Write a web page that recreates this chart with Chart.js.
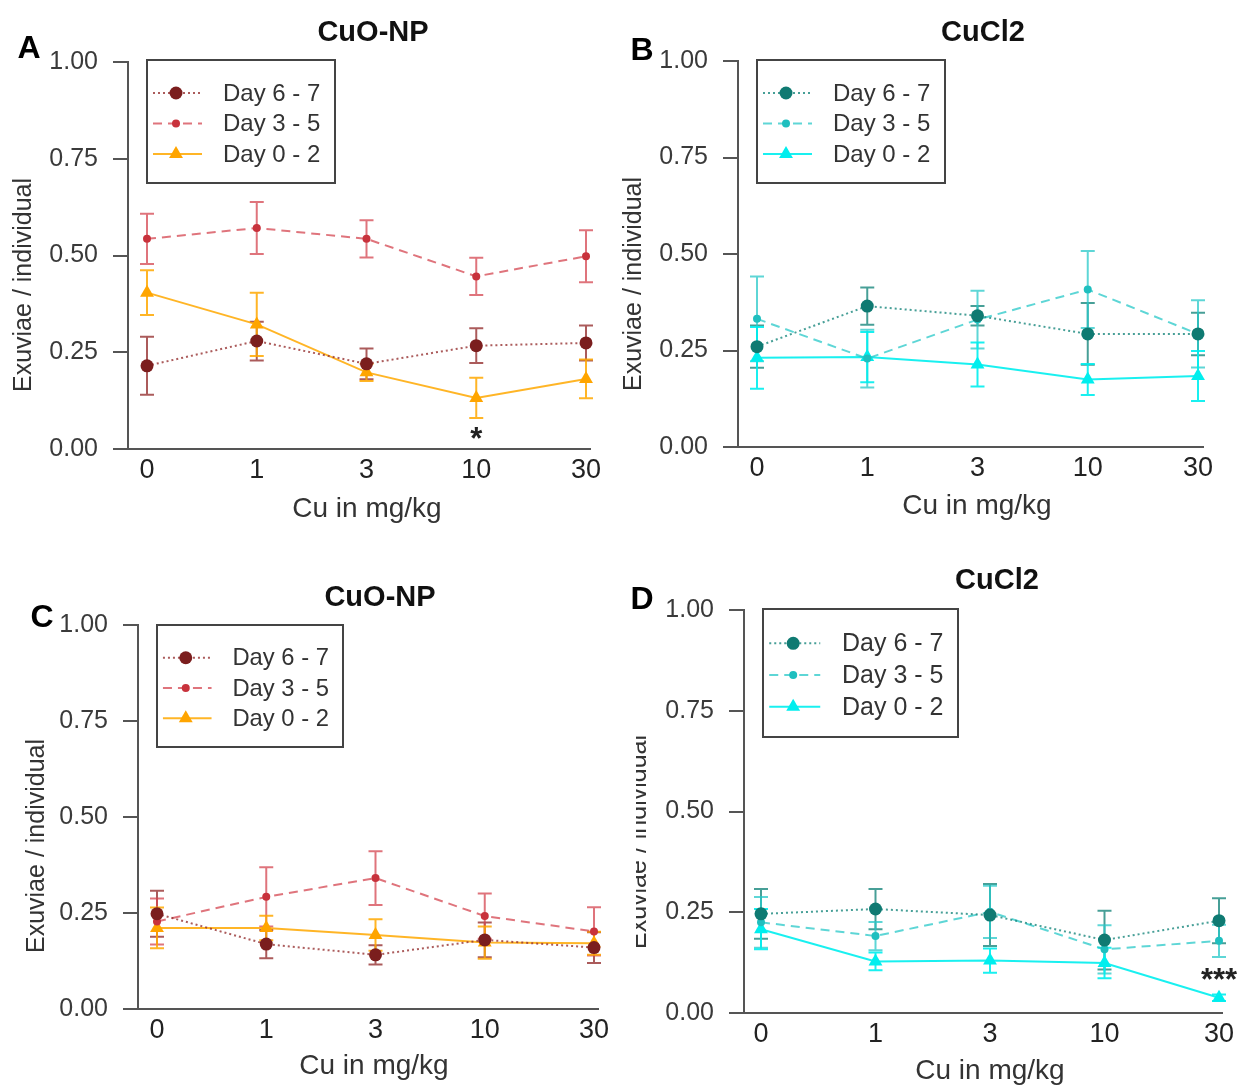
<!DOCTYPE html>
<html>
<head>
<meta charset="utf-8">
<script src="https://cdn.jsdelivr.net/npm/chart.js@4.4.1/dist/chart.umd.min.js"></script>
<style>
  body { margin: 0; background: #fff; width: 1242px; height: 1089px; position: relative; overflow: hidden;
         font-family: "Liberation Sans", Arial, sans-serif; }
  canvas { position: absolute; }
  .txt { position: absolute; white-space: nowrap; transform: translate(-50%, -50%); line-height: 1; }
  .letter { font-weight: bold; font-size: 32px; color: #000; }
  .title { font-weight: bold; font-size: 29px; color: #111; }
  .xtitle { font-size: 28px; color: #333; }
  .ytitle { font-size: 25px; color: #333; line-height: 25px; transform: translate(-50%, -50%) rotate(-90deg); }
  .clip { position: absolute; overflow: hidden; }
</style>
</head>
<body>
<script>
// Doses on the x axis and the three sampling windows.
const doses = ["0", "1", "3", "10", "30"];
const windows = ["Day 6 - 7", "Day 3 - 5", "Day 0 - 2"];

// Panel A: CuO-NP, mean exuviae per individual and error half-widths.
const aDay67 = [0.215, 0.279, 0.220, 0.267, 0.274];
const aDay35 = [0.543, 0.571, 0.543, 0.446, 0.498];
const aDay02 = [0.404, 0.322, 0.198, 0.132, 0.181];
const aErr67 = [0.075, 0.050, 0.040, 0.045, 0.045];
const aErr35 = [0.065, 0.067, 0.048, 0.048, 0.067];
const aErr02 = [0.058, 0.082, 0.022, 0.052, 0.050];
const aSig = ["", "", "", "*", ""];

// Panel B: CuCl2.
const bDay67 = [0.260, 0.365, 0.340, 0.293, 0.293];
const bDay35 = [0.332, 0.229, 0.330, 0.408, 0.293];
const bDay02 = [0.231, 0.233, 0.214, 0.175, 0.184];
const bErr67 = [0.055, 0.048, 0.025, 0.080, 0.055];
const bErr35 = [0.110, 0.075, 0.075, 0.100, 0.087];
const bErr02 = [0.080, 0.065, 0.057, 0.040, 0.065];
const bSig = ["", "", "", "", ""];

// Panel C: CuO-NP.
const cDay67 = [0.248, 0.169, 0.141, 0.180, 0.160];
const cDay35 = [0.228, 0.292, 0.341, 0.242, 0.202];
const cDay02 = [0.211, 0.211, 0.193, 0.173, 0.171];
const cErr67 = [0.060, 0.037, 0.025, 0.045, 0.040];
const cErr35 = [0.060, 0.077, 0.070, 0.059, 0.063];
const cErr02 = [0.053, 0.032, 0.041, 0.042, 0.030];
const cSig = ["", "", "", "", ""];

// Panel D: CuCl2.
const dDay67 = [0.246, 0.258, 0.243, 0.181, 0.229];
const dDay35 = [0.225, 0.191, 0.251, 0.158, 0.179];
const dDay02 = [0.208, 0.128, 0.130, 0.124, 0.038];
const dErr67 = [0.062, 0.050, 0.077, 0.073, 0.056];
const dErr35 = [0.063, 0.035, 0.065, 0.060, 0.040];
const dErr02 = [0.050, 0.022, 0.030, 0.038, 0.008];
const dSig = ["", "", "", "", "***"];

const yTicks = [0, 0.25, 0.5, 0.75, 1];

// Line, marker, dash per window; one palette per copper form.
const cuoColors = [
  { line: "rgba(150,50,50,0.8)", point: "#7b1e1e" },
  { line: "rgba(212,70,80,0.75)", point: "#c8323c" },
  { line: "rgba(255,168,0,0.85)", point: "#ffa500" },
];
const cuclColors = [
  { line: "rgba(25,135,125,0.8)", point: "#0f7a72" },
  { line: "rgba(40,200,200,0.75)", point: "#1fbfbf" },
  { line: "rgba(0,238,238,0.9)", point: "#00eeee" },
];
const looks = [
  { dash: [2, 3], style: "circle", radius: 6.5 },
  { dash: [9, 6], style: "circle", radius: 4 },
  { dash: [], style: "triangle", radius: 8 },
];

// Layout in page pixels: canvas box, plot area, where the first/last dose sit.
const panels = [
  { letter: "A", title: "CuO-NP", canvas: [0, 0, 620, 545], area: [128, 62, 590, 449], xEnds: [147, 586],
    series: [aDay67, aDay35, aDay02], errors: [aErr67, aErr35, aErr02], sig: aSig, sigSide: "below",
    colors: cuoColors, legend: [147, 60, 188, 123],
    letterAt: [29, 47], titleAt: [373, 31], xTitleAt: [367, 508], yTitleAt: [22, 285] },
  { letter: "B", title: "CuCl2", canvas: [620, 0, 622, 545], area: [738, 61, 1203, 447], xEnds: [757, 1198],
    series: [bDay67, bDay35, bDay02], errors: [bErr67, bErr35, bErr02], sig: bSig, sigSide: "below",
    colors: cuclColors, legend: [757, 60, 188, 123],
    letterAt: [642, 49], titleAt: [983, 31], xTitleAt: [977, 505], yTitleAt: [632, 284] },
  { letter: "C", title: "CuO-NP", canvas: [0, 545, 620, 544], area: [138, 625, 598, 1009], xEnds: [157, 594],
    series: [cDay67, cDay35, cDay02], errors: [cErr67, cErr35, cErr02], sig: cSig, sigSide: "below",
    colors: cuoColors, legend: [157, 625, 186, 122],
    letterAt: [42, 616], titleAt: [380, 596], xTitleAt: [374, 1065], yTitleAt: [35, 846] },
  { letter: "D", title: "CuCl2", canvas: [620, 545, 622, 544], area: [744, 610, 1222, 1013], xEnds: [761, 1219],
    series: [dDay67, dDay35, dDay02], errors: [dErr67, dErr35, dErr02], sig: dSig, sigSide: "above",
    colors: cuclColors, legend: [763, 609, 195, 128],
    letterAt: [642, 598], titleAt: [997, 579], xTitleAt: [990, 1070], yTitleAt: [637, 842], yClip: 636 },
];

const FONT = '"Liberation Sans", Arial, sans-serif';

// Whiskers go under the markers.
const errorBars = {
  id: "errorBars",
  beforeDatasetsDraw(chart) {
    const { ctx, scales: { y } } = chart;
    chart.data.datasets.forEach((ds, i) => {
      const meta = chart.getDatasetMeta(i);
      ctx.save();
      ctx.strokeStyle = ds.borderColor;
      ctx.lineWidth = 2;
      meta.data.forEach((pt, j) => {
        const v = ds.data[j].y, e = ds.errors[j];
        const top = y.getPixelForValue(v + e), bot = y.getPixelForValue(v - e);
        ctx.beginPath();
        ctx.moveTo(pt.x, top); ctx.lineTo(pt.x, bot);
        ctx.moveTo(pt.x - 7, top); ctx.lineTo(pt.x + 7, top);
        ctx.moveTo(pt.x - 7, bot); ctx.lineTo(pt.x + 7, bot);
        ctx.stroke();
      });
      ctx.restore();
    });
  },
};

// Significance stars next to the Day 0-2 whisker.
const sigMarks = {
  id: "sigMarks",
  afterDatasetsDraw(chart, args, o) {
    const { ctx, scales: { y } } = chart;
    const ds = chart.data.datasets[2];
    const meta = chart.getDatasetMeta(2);
    const size = 31;
    ctx.save();
    ctx.fillStyle = "#222";
    ctx.font = `bold ${size}px ${FONT}`;
    ctx.textAlign = "center";
    ctx.textBaseline = "alphabetic";
    o.marks.forEach((m, j) => {
      if (!m) return;
      const v = ds.data[j].y, e = ds.errors[j];
      const mid = o.side === "below" ? y.getPixelForValue(v - e) + 14 : y.getPixelForValue(v + e) - 22;
      // the asterisk glyph sits high in the em box, so drop the baseline under it
      ctx.fillText(m, meta.data[j].x, mid + size * 0.55);
    });
    ctx.restore();
  },
};

function marker(ctx, style, x, y, r, color) {
  ctx.fillStyle = color;
  ctx.beginPath();
  if (style === "triangle") {
    let a = 0;
    ctx.moveTo(x + Math.sin(a) * r, y - Math.cos(a) * r);
    a += 2 * Math.PI / 3; ctx.lineTo(x + Math.sin(a) * r, y - Math.cos(a) * r);
    a += 2 * Math.PI / 3; ctx.lineTo(x + Math.sin(a) * r, y - Math.cos(a) * r);
    ctx.closePath();
  } else {
    ctx.arc(x, y, r, 0, Math.PI * 2);
  }
  ctx.fill();
}

// Boxed legend in the upper left of the plot, as in the R figure.
const boxLegend = {
  id: "boxLegend",
  afterDraw(chart, args, o) {
    const { ctx } = chart;
    const [x, y, w, h] = o.rect;
    const s = h / 123;
    ctx.save();
    ctx.strokeStyle = "#444";
    ctx.lineWidth = 2;
    ctx.strokeRect(x, y, w, h);
    ctx.font = `${24 * s}px ${FONT}`;
    ctx.textBaseline = "middle";
    chart.data.datasets.forEach((ds, i) => {
      const ry = y + (33 + i * 30.5) * s;
      ctx.setLineDash(ds.borderDash);
      ctx.strokeStyle = ds.borderColor;
      ctx.lineWidth = 2;
      ctx.beginPath(); ctx.moveTo(x + 6 * s, ry); ctx.lineTo(x + 55 * s, ry); ctx.stroke();
      ctx.setLineDash([]);
      marker(ctx, ds.pointStyle, x + 29 * s, ry, ds.pointRadius, ds.pointBackgroundColor);
      ctx.fillStyle = "#333";
      ctx.fillText(ds.label, x + 76 * s, ry + 1);
    });
    ctx.restore();
  },
};

function addText(cls, text, at, parent = document.body) {
  const d = document.createElement("div");
  d.className = "txt " + cls;
  d.textContent = text;
  d.style.left = at[0] + "px";
  d.style.top = at[1] + "px";
  parent.appendChild(d);
  return d;
}

panels.forEach((p) => {
  const [cx, cy, cw, ch] = p.canvas;
  const [left, top, right, bottom] = p.area;
  const canvas = document.createElement("canvas");
  canvas.width = cw; canvas.height = ch;
  canvas.style.left = cx + "px"; canvas.style.top = cy + "px";
  document.body.appendChild(canvas);

  const step = (p.xEnds[1] - p.xEnds[0]) / (doses.length - 1);
  const xMin = -(p.xEnds[0] - left) / step;
  const xMax = doses.length - 1 + (right - p.xEnds[1]) / step;

  new Chart(canvas, {
    type: "line",
    data: {
      datasets: p.series.map((vals, i) => ({
        label: windows[i],
        data: vals.map((v, j) => ({ x: j, y: v })),
        errors: p.errors[i],
        borderColor: p.colors[i].line,
        borderDash: looks[i].dash,
        borderWidth: 2,
        pointStyle: looks[i].style,
        pointRadius: looks[i].radius,
        pointBackgroundColor: p.colors[i].point,
        pointBorderWidth: 0,
        tension: 0,
        clip: false,
      })),
    },
    options: {
      responsive: false,
      animation: false,
      devicePixelRatio: 1,
      layout: { padding: { left: 0, top: top - cy, right: cx + cw - right, bottom: 0 } },
      plugins: {
        legend: { display: false },
        tooltip: { enabled: false },
        boxLegend: { rect: [p.legend[0] - cx, p.legend[1] - cy, p.legend[2], p.legend[3]] },
        sigMarks: { marks: p.sig, side: p.sigSide },
      },
      scales: {
        x: {
          type: "linear",
          min: xMin, max: xMax,
          afterBuildTicks: (s) => { s.ticks = doses.map((_, i) => ({ value: i })); },
          afterFit: (s) => { s.height = cy + ch - bottom; },
          grid: { display: true, drawOnChartArea: false, drawTicks: false },
          border: { display: true, color: "#555", width: 2 },
          ticks: { callback: (v) => doses[v], color: "#222", padding: 5, maxRotation: 0,
                   font: { family: FONT, size: 27 } },
        },
        y: {
          min: 0, max: 1,
          afterBuildTicks: (s) => { s.ticks = yTicks.map((v) => ({ value: v })); },
          afterFit: (s) => { s.width = left - cx; },
          grid: { display: true, drawOnChartArea: false, drawTicks: true, tickLength: 15, color: "#555", lineWidth: 2 },
          border: { display: true, color: "#555", width: 2 },
          ticks: { callback: (v) => v.toFixed(2), color: "#3a3a3a", padding: 15,
                   font: { family: FONT, size: 25 } },
        },
      },
    },
    plugins: [errorBars, sigMarks, boxLegend],
  });

  addText("letter", p.letter, p.letterAt);
  addText("title", p.title, p.titleAt);
  addText("xtitle", "Cu in mg/kg", p.xTitleAt);
  if (p.yClip) {
    const box = document.createElement("div");
    box.className = "clip";
    box.style.left = p.yClip + "px"; box.style.top = (p.yTitleAt[1] - 150) + "px";
    box.style.width = "40px"; box.style.height = "300px";
    document.body.appendChild(box);
    addText("ytitle", "Exuviae / individual", [p.yTitleAt[0] - p.yClip, 150], box);
  } else {
    addText("ytitle", "Exuviae / individual", p.yTitleAt);
  }
});
</script>
</body>
</html>
